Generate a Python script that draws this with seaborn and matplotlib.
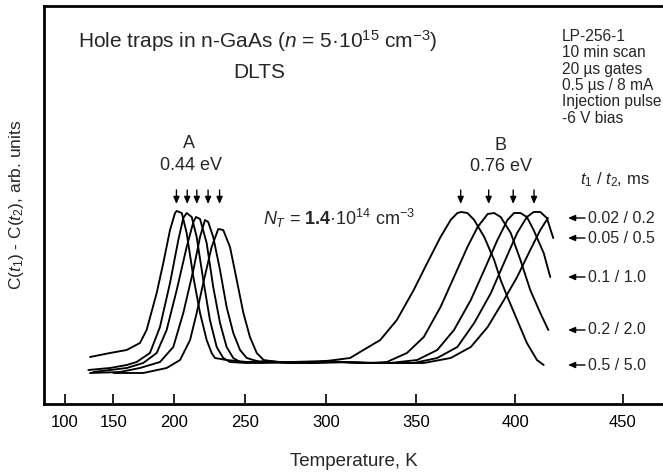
import numpy as np
import pandas as pd
import matplotlib
matplotlib.use("Agg")
import matplotlib.pyplot as plt
from matplotlib.ticker import NullLocator, FixedLocator, FixedFormatter
import seaborn as sns

# DLTS spectra, one trace per rate window (t1 / t2, ms); signal in arb. units
windows = ["0.5 / 5.0", "0.2 / 2.0", "0.1 / 1.0", "0.05 / 0.5", "0.02 / 0.2"]

temp_w1 = [127.4, 146.8, 161.8, 173.1, 178.6, 186.7, 191.9, 197.1, 200.9, 202.2, 206.0,
           209.6, 214.5, 219.3, 224.0, 227.5, 229.8, 237.8, 251.2, 265, 280, 295, 305,
           313.9, 321.4, 330.7, 339.7, 348.7, 355.8, 362.7, 367.9, 371.3, 373.3, 376.4,
           379.8, 384.8, 389.7, 392.9, 396.2, 400.9, 405.6, 410.4, 413.6]
sig_w1 = [0.05, 0.09, 0.12, 0.19, 0.32, 0.69, 0.99, 1.32, 1.49, 1.51, 1.49,
          1.29, 0.85, 0.49, 0.22, 0.09, 0.04, 0.02, 0.0, 0.01, -0.01, 0.0, 0.02,
          0.04, 0.12, 0.22, 0.42, 0.72, 0.99, 1.25, 1.42, 1.49, 1.50, 1.49,
          1.42, 1.25, 1.02, 0.82, 0.65, 0.42, 0.19, 0.02, -0.03]

temp_w2 = [125.7, 146.8, 161.8, 170.3, 181.3, 189.3, 197.1, 203.4, 207.1, 209.6, 213.3,
           216.9, 221.6, 226.3, 231.0, 235.5, 240.1, 251.2, 270, 290, 310, 325, 334.3,
           345.1, 354.0, 362.7, 369.6, 376.4, 381.5, 386.5, 389.7, 392.9, 397.8, 402.5,
           407.2, 412.0, 415.8]
sig_w2 = [-0.08, -0.06, -0.03, 0.0, 0.09, 0.35, 0.79, 1.22, 1.44, 1.49, 1.45,
          1.25, 0.82, 0.42, 0.15, 0.04, 0.0, -0.01, 0.0, -0.01, 0.0, -0.01, 0.0,
          0.09, 0.25, 0.55, 0.85, 1.15, 1.35, 1.48, 1.49, 1.45, 1.29, 1.02,
          0.72, 0.49, 0.32]

temp_w3 = [130.7, 161.8, 175.8, 186.7, 194.5, 202.2, 209.6, 214.5, 216.4, 219.3, 224.0,
           228.6, 233.3, 237.8, 242.3, 246.8, 259.9, 280, 300, 320, 336.0, 350.5, 361.0,
           369.6, 378.1, 384.8, 391.3, 396.2, 399.4, 402.5, 405.6, 408.8, 413.6, 416.7]
sig_w3 = [-0.10, -0.06, -0.01, 0.09, 0.32, 0.72, 1.15, 1.40, 1.45, 1.43, 1.19,
          0.75, 0.39, 0.15, 0.04, 0.0, -0.01, 0.0, 0.01, -0.01, -0.01, 0.02, 0.12,
          0.32, 0.62, 0.92, 1.22, 1.42, 1.49, 1.49, 1.45, 1.32, 1.09, 0.85]

temp_w4 = [127.4, 155.9, 173.1, 189.3, 199.6, 207.1, 214.5, 219.3, 222.8, 225.1, 228.6,
           233.3, 237.8, 242.3, 246.8, 251.2, 259.9, 280, 300, 325, 348.7, 361.0,
           371.3, 379.8, 388.1, 394.5, 400.9, 405.6, 408.8, 412.0, 415.1, 418.1]
sig_w4 = [-0.11, -0.10, -0.06, 0.0, 0.15, 0.49, 0.92, 1.25, 1.42, 1.40, 1.25,
          0.92, 0.55, 0.29, 0.12, 0.04, 0.0, -0.01, 0.0, -0.01, -0.01, 0.04,
          0.15, 0.39, 0.69, 0.99, 1.29, 1.45, 1.50, 1.50, 1.44, 1.24]

temp_w5 = [150, 175.8, 194.5, 204.7, 212.1, 216.9, 221.6, 227.5, 232.1, 235.5, 240.1,
           244.6, 249.0, 253.3, 257.7, 262.1, 270.8, 290, 310, 330, 354.0, 367.9,
           378.1, 386.5, 394.5, 400.9, 407.2, 412.0, 415.6]
sig_w5 = [-0.11, -0.11, -0.06, 0.02, 0.22, 0.49, 0.79, 1.15, 1.33, 1.32, 1.15,
          0.82, 0.49, 0.25, 0.09, 0.02, 0.0, -0.01, 0.0, -0.01, -0.01, 0.04,
          0.15, 0.35, 0.62, 0.85, 1.12, 1.32, 1.44]

# peak maxima marked with arrows
peaks_A = [202, 210, 217, 225, 233]
peaks_B = [373, 387, 399, 409]

x_ticks = [100, 150, 200, 250, 300, 350, 400, 450]
x_tick_labels = ["100", "150", "200", "250", "300", "350", "400", "450"]

info_lines = ["LP-256-1", "10 min scan", "20 µs gates", "0.5 µs / 8 mA",
              "Injection pulse", "-6 V bias"]

temps = [temp_w1, temp_w2, temp_w3, temp_w4, temp_w5]
sigs = [sig_w1, sig_w2, sig_w3, sig_w4, sig_w5]
df = pd.concat([pd.DataFrame({"T": t, "signal": s, "window": w})
                for t, s, w in zip(temps, sigs, windows)], ignore_index=True)

sns.set_theme(style="white")
plt.rcParams["font.family"] = ["Liberation Sans", "DejaVu Sans"]
plt.rcParams["mathtext.fontset"] = "custom"
plt.rcParams["mathtext.rm"] = "Liberation Sans"
plt.rcParams["mathtext.it"] = "Liberation Sans:italic"
plt.rcParams["mathtext.bf"] = "Liberation Sans:bold"

W, H = 663, 474
fig = plt.figure(figsize=(W / 100, H / 100), dpi=100)
ax = fig.add_axes([44 / W, 70 / H, 619 / W, 398 / H])


def ax_x(px):
    return (px - 44) / 619


def ax_y(py):
    return (404 - py) / 398


sns.lineplot(data=df, x="T", y="signal", units="window", estimator=None, sort=False,
             color="black", lw=1.35, ax=ax, legend=False)

# stretched temperature axis (power-law scale)
P = 1.65
ax.set_xscale("function", functions=(lambda t: np.power(np.clip(t, 1e-9, None), P),
                                     lambda u: np.power(np.clip(u, 1e-9, None), 1 / P)))
ax.set_xlim(72.4, 467.8)
ax.set_ylim(-0.42, 3.56)
ax.xaxis.set_major_locator(FixedLocator(x_ticks))
ax.xaxis.set_major_formatter(FixedFormatter(x_tick_labels))
ax.xaxis.set_minor_locator(NullLocator())
ax.set_yticks([])
ax.tick_params(axis="x", direction="in", length=7, width=1.2, pad=8,
               labelsize=12, colors="black", bottom=True)
for side in ("left", "bottom", "top"):
    ax.spines[side].set_linewidth(2)
    ax.spines[side].set_color("black")
ax.spines["right"].set_visible(False)
ax.set_xlabel("")
ax.set_ylabel("")

fig.text(354 / W, 1 - 462 / H, "Temperature, K", ha="center", va="center", fontsize=13.5)
fig.text(17 / W, 1 - 205 / H, r"C($t_1$) - C($t_2$), arb. units", rotation=90,
         ha="center", va="center", fontsize=12.5)

# title block
ax.text(ax_x(78), ax_y(48), r"Hole traps in n-GaAs ($n$ = 5·10$^{15}$ cm$^{-3}$)",
        transform=ax.transAxes, ha="left", va="baseline", fontsize=15)
ax.text(ax_x(259), ax_y(78), "DLTS", transform=ax.transAxes,
        ha="center", va="baseline", fontsize=15)

# sample / measurement notes
for i, line in enumerate(info_lines):
    ax.text(ax_x(562), ax_y(41 + 16.3 * i), line, transform=ax.transAxes,
            ha="left", va="baseline", fontsize=11.2)

# trap labels
ax.text(211, 2.19, "A", ha="center", va="center", fontsize=13)
ax.text(212.5, 1.97, "0.44 eV", ha="center", va="center", fontsize=13)
ax.text(393, 2.17, "B", ha="center", va="center", fontsize=13)
ax.text(393, 1.96, "0.76 eV", ha="center", va="center", fontsize=13)
ax.text(262, 1.44, r"$N_T$ = $\mathbf{1.4}$·10$^{14}$ cm$^{-3}$", ha="left",
        va="center", fontsize=13)

for tp in peaks_A + peaks_B:
    ax.annotate("", xy=(tp, 1.58), xytext=(tp, 1.72),
                arrowprops=dict(arrowstyle="-|>,head_length=0.35,head_width=0.15",
                                color="black", lw=1, shrinkA=0, shrinkB=0))

# rate-window labels at the end of each trace
ax.text(ax_x(580), ax_y(180), r"$t_1$ / $t_2$, ms", transform=ax.transAxes,
        ha="left", va="center", fontsize=12)
for t, s, w in zip(temps, sigs, windows):
    ax.annotate("", xy=(ax_x(568), s[-1]), xytext=(ax_x(585), s[-1]),
                xycoords=("axes fraction", "data"), textcoords=("axes fraction", "data"),
                arrowprops=dict(arrowstyle="-|>,head_length=0.35,head_width=0.15",
                                color="black", lw=1, shrinkA=0, shrinkB=0))
    ax.text(ax_x(588), s[-1], w, transform=ax.get_yaxis_transform(),
            ha="left", va="center", fontsize=11.5)

fig.savefig("out.png", dpi=100, facecolor="white")
